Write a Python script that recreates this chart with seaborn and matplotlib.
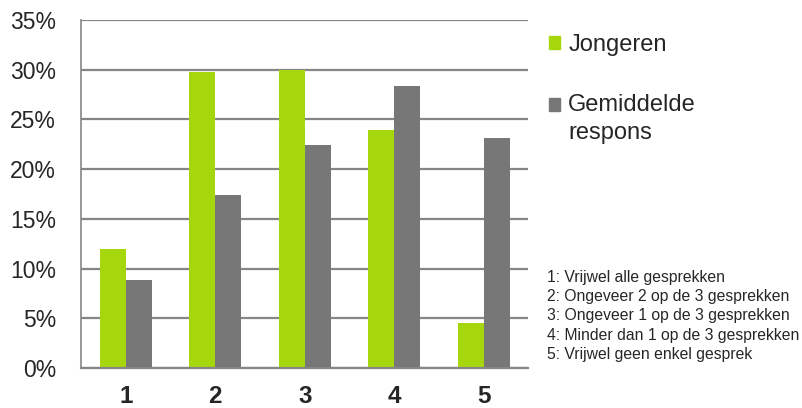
import pandas as pd
import seaborn as sns
from matplotlib import pyplot as plt
from matplotlib.patches import Patch, Rectangle
from matplotlib.legend_handler import HandlerPatch

# data
categories = ["1", "2", "3", "4", "5"]
jongeren = [12.0, 29.8, 30.0, 23.9, 4.5]
gemiddelde = [8.9, 17.4, 22.4, 28.4, 23.1]
series_names = ["Jongeren", "Gemiddelde\nrespons"]
footnote_lines = [
    "1: Vrijwel alle gesprekken",
    "2: Ongeveer 2 op de 3 gesprekken",
    "3: Ongeveer 1 op de 3 gesprekken",
    "4: Minder dan 1 op de 3 gesprekken",
    "5: Vrijwel geen enkel gesprek",
]

GREEN = "#a6d60c"
GREY = "#777777"
GRID = "#868686"

df = pd.DataFrame(
    {
        "category": categories * 2,
        "value": jongeren + gemiddelde,
        "series": [series_names[0]] * 5 + [series_names[1]] * 5,
    }
)

sns.set_style("white")
plt.rcParams["font.family"] = ["Liberation Sans", "DejaVu Sans"]

fig = plt.figure(figsize=(8.03, 4.08), dpi=100)
ax = fig.add_axes([0.101, 0.098, 0.557, 0.853])

sns.barplot(
    data=df,
    x="category",
    y="value",
    hue="series",
    palette=[GREEN, GREY],
    width=0.58,
    saturation=1,
    linewidth=0,
    ax=ax,
    legend=False,
)

ax.set_ylim(0, 35)
ax.set_xlim(-0.5, 4.5)
ax.set_yticks(range(0, 36, 5))
ax.set_yticklabels([f"{v}%" for v in range(0, 36, 5)], fontsize=16.5)
ax.set_xticks([i - 0.5 for i in range(6)], minor=False)
ax.set_xticklabels([])
ax.set_xticks(range(5), minor=True)
ax.set_xticklabels(categories, minor=True, fontsize=17.5, fontweight="bold")
ax.tick_params(axis="x", which="major", length=8, width=1.2, color=GRID, direction="out")
ax.tick_params(axis="x", which="minor", length=0, pad=12.5)
ax.tick_params(axis="y", length=8, width=1.2, color=GRID, direction="out", pad=10)
ax.set_xlabel("")
ax.set_ylabel("")

ax.yaxis.grid(True, color=GRID, linewidth=1.6)
ax.set_axisbelow(True)
for side in ["top", "right"]:
    ax.spines[side].set_visible(False)
ax.spines["left"].set_color(GRID)
ax.spines["left"].set_linewidth(1.2)
ax.spines["bottom"].set_color(GRID)
ax.spines["bottom"].set_linewidth(1.6)


# legend square sits on the first text line, as in the reference
def top_line_square(legend, orig_handle, xdescent, ydescent, width, height, fontsize):
    return Rectangle((-xdescent, -ydescent + 0.6 * fontsize), width, height)


handles = [Patch(color=GREEN), Patch(color=GREY)]
leg = fig.legend(
    handles,
    series_names,
    loc="upper left",
    bbox_to_anchor=(0.657, 0.968),
    frameon=False,
    fontsize=17,
    handlelength=0.47,
    handleheight=0.47,
    handletextpad=0.35,
    labelspacing=1.6,
    handler_map={handles[1]: HandlerPatch(patch_func=top_line_square)},
)
leg.get_texts()[1].set_linespacing(1.35)

fig.text(0.681, 0.338, "\n".join(footnote_lines), fontsize=11.3, va="top", linespacing=1.35)

fig.savefig("out.png", dpi=100)
